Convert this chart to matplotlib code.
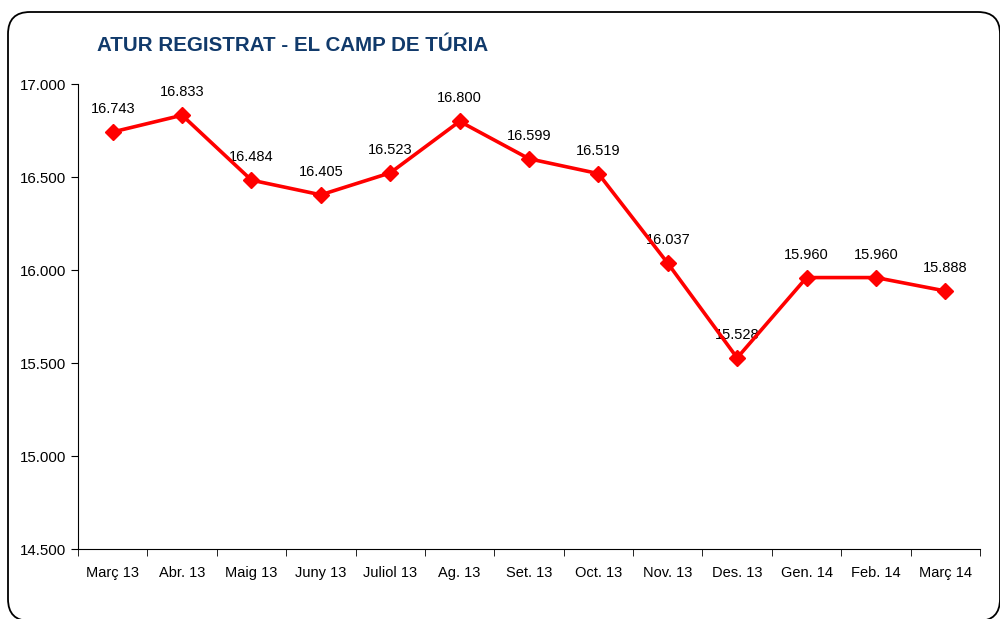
import matplotlib.pyplot as plt
from matplotlib.patches import FancyBboxPatch

plt.rcParams['font.family'] = ['Liberation Sans', 'DejaVu Sans']

months = ['Març 13', 'Abr. 13', 'Maig 13', 'Juny 13', 'Juliol 13', 'Ag. 13', 'Set. 13',
          'Oct. 13', 'Nov. 13', 'Des. 13', 'Gen. 14', 'Feb. 14', 'Març 14']
atur = [16743, 16833, 16484, 16405, 16523, 16800, 16599, 16519, 16037, 15528, 15960, 15960, 15888]
y_ticks = [14500, 15000, 15500, 16000, 16500, 17000]


def fmt(v):
    return f"{v:,.0f}".replace(',', '.')


fig = plt.figure(figsize=(10, 6.19), dpi=100)

# marc arrodonit (tallat a dreta i baix com a l'original)
frame = FancyBboxPatch((0.08, -0.02), 9.92, 6.09,
                       boxstyle="round,pad=0,rounding_size=0.22",
                       transform=fig.dpi_scale_trans, facecolor='none',
                       edgecolor='black', linewidth=1.3, clip_on=False)
fig.patches.append(frame)

ax = fig.add_axes([0.078, 0.113, 0.902, 0.751])
x = list(range(len(months)))
ax.plot(x, atur, color='#FF0000', linewidth=2.6, marker='D', markersize=8.5,
        markeredgecolor='#FF0000', markerfacecolor='#FF0000', zorder=3)

for xi, v in zip(x, atur):
    ax.annotate(fmt(v), (xi, v), xytext=(0, 11.5), textcoords='offset points',
                ha='center', va='bottom', fontsize=10.5, zorder=2)

ax.set_xlim(-0.5, len(months) - 0.5)
ax.set_ylim(14500, 17000)
ax.set_yticks(y_ticks)
ax.set_yticklabels([fmt(t) for t in y_ticks], fontsize=10.8)

ax.set_xticks(x)
ax.set_xticklabels(months, fontsize=10.5)
ax.tick_params(axis='x', which='major', length=0, pad=12)
ax.set_xticks([i - 0.5 for i in range(len(months) + 1)], minor=True)
ax.tick_params(axis='x', which='minor', length=5, direction='out')
ax.tick_params(axis='y', length=5, direction='out')

ax.spines['top'].set_visible(False)
ax.spines['right'].set_visible(False)

fig.text(0.097, 0.927, 'ATUR REGISTRAT - EL CAMP DE TÚRIA', fontsize=14.8,
         fontweight='bold', color='#113A6B', ha='left', va='center')

plt.savefig('out.png', dpi=100)
